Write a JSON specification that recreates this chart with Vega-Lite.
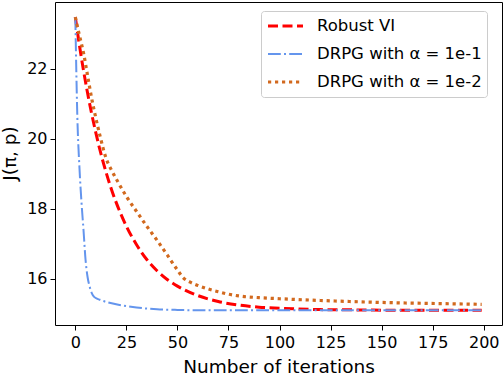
{
  "$schema": "https://vega.github.io/schema/vega-lite/v6.json",
  "width": 447,
  "height": 323,
  "autosize": "none",
  "padding": {"left": 55, "top": 2, "right": 2, "bottom": 51},
  "background": "white",
  "config": {
    "font": "DejaVu Sans",
    "view": {"stroke": "black", "strokeWidth": 1},
    "axis": {"grid": false, "domain": false, "tickColor": "black", "tickWidth": 1, "tickSize": 5, "labelColor": "black", "labelFont": "DejaVu Sans", "labelFontSize": 16, "titleFont": "DejaVu Sans", "titleFontSize": 18.5, "titleFontWeight": "normal", "titleColor": "black"}
  },
  "data": {"values": [
    {"series": "Robust VI", "x": 0, "y": 23.47},
    {"series": "Robust VI", "x": 2, "y": 22.67},
    {"series": "Robust VI", "x": 4, "y": 21.95},
    {"series": "Robust VI", "x": 6, "y": 21.3},
    {"series": "Robust VI", "x": 8, "y": 20.71},
    {"series": "Robust VI", "x": 10, "y": 20.18},
    {"series": "Robust VI", "x": 12, "y": 19.69},
    {"series": "Robust VI", "x": 15, "y": 19.05},
    {"series": "Robust VI", "x": 18, "y": 18.5},
    {"series": "Robust VI", "x": 21, "y": 18.03},
    {"series": "Robust VI", "x": 25, "y": 17.5},
    {"series": "Robust VI", "x": 30, "y": 16.97},
    {"series": "Robust VI", "x": 35, "y": 16.55},
    {"series": "Robust VI", "x": 40, "y": 16.23},
    {"series": "Robust VI", "x": 45, "y": 15.98},
    {"series": "Robust VI", "x": 50, "y": 15.79},
    {"series": "Robust VI", "x": 60, "y": 15.52},
    {"series": "Robust VI", "x": 70, "y": 15.35},
    {"series": "Robust VI", "x": 80, "y": 15.25},
    {"series": "Robust VI", "x": 90, "y": 15.19},
    {"series": "Robust VI", "x": 100, "y": 15.16},
    {"series": "Robust VI", "x": 120, "y": 15.12},
    {"series": "Robust VI", "x": 140, "y": 15.11},
    {"series": "Robust VI", "x": 160, "y": 15.1},
    {"series": "Robust VI", "x": 180, "y": 15.1},
    {"series": "Robust VI", "x": 199, "y": 15.1},
    {"series": "DRPG with α = 1e-1", "x": 0, "y": 23.47},
    {"series": "DRPG with α = 1e-1", "x": 1, "y": 20.6},
    {"series": "DRPG with α = 1e-1", "x": 2, "y": 19.2},
    {"series": "DRPG with α = 1e-1", "x": 3, "y": 18.2},
    {"series": "DRPG with α = 1e-1", "x": 4, "y": 17.4},
    {"series": "DRPG with α = 1e-1", "x": 5, "y": 16.55},
    {"series": "DRPG with α = 1e-1", "x": 6, "y": 16.05},
    {"series": "DRPG with α = 1e-1", "x": 7, "y": 15.78},
    {"series": "DRPG with α = 1e-1", "x": 8, "y": 15.6},
    {"series": "DRPG with α = 1e-1", "x": 9, "y": 15.5},
    {"series": "DRPG with α = 1e-1", "x": 10, "y": 15.45},
    {"series": "DRPG with α = 1e-1", "x": 12, "y": 15.4},
    {"series": "DRPG with α = 1e-1", "x": 15, "y": 15.34},
    {"series": "DRPG with α = 1e-1", "x": 20, "y": 15.27},
    {"series": "DRPG with α = 1e-1", "x": 25, "y": 15.22},
    {"series": "DRPG with α = 1e-1", "x": 30, "y": 15.18},
    {"series": "DRPG with α = 1e-1", "x": 35, "y": 15.15},
    {"series": "DRPG with α = 1e-1", "x": 40, "y": 15.13},
    {"series": "DRPG with α = 1e-1", "x": 50, "y": 15.11},
    {"series": "DRPG with α = 1e-1", "x": 60, "y": 15.1},
    {"series": "DRPG with α = 1e-1", "x": 80, "y": 15.1},
    {"series": "DRPG with α = 1e-1", "x": 100, "y": 15.1},
    {"series": "DRPG with α = 1e-1", "x": 150, "y": 15.1},
    {"series": "DRPG with α = 1e-1", "x": 199, "y": 15.1},
    {"series": "DRPG with α = 1e-2", "x": 0, "y": 23.47},
    {"series": "DRPG with α = 1e-2", "x": 2, "y": 22.95},
    {"series": "DRPG with α = 1e-2", "x": 4, "y": 22.45},
    {"series": "DRPG with α = 1e-2", "x": 6, "y": 21.8},
    {"series": "DRPG with α = 1e-2", "x": 8, "y": 21.15},
    {"series": "DRPG with α = 1e-2", "x": 10, "y": 20.6},
    {"series": "DRPG with α = 1e-2", "x": 12, "y": 20.1},
    {"series": "DRPG with α = 1e-2", "x": 15, "y": 19.45},
    {"series": "DRPG with α = 1e-2", "x": 18, "y": 19.07},
    {"series": "DRPG with α = 1e-2", "x": 21, "y": 18.75},
    {"series": "DRPG with α = 1e-2", "x": 25, "y": 18.35},
    {"series": "DRPG with α = 1e-2", "x": 30, "y": 17.92},
    {"series": "DRPG with α = 1e-2", "x": 35, "y": 17.5},
    {"series": "DRPG with α = 1e-2", "x": 40, "y": 17.1},
    {"series": "DRPG with α = 1e-2", "x": 45, "y": 16.68},
    {"series": "DRPG with α = 1e-2", "x": 50, "y": 16.25},
    {"series": "DRPG with α = 1e-2", "x": 53, "y": 16.02},
    {"series": "DRPG with α = 1e-2", "x": 56, "y": 15.91},
    {"series": "DRPG with α = 1e-2", "x": 60, "y": 15.81},
    {"series": "DRPG with α = 1e-2", "x": 65, "y": 15.71},
    {"series": "DRPG with α = 1e-2", "x": 70, "y": 15.63},
    {"series": "DRPG with α = 1e-2", "x": 75, "y": 15.56},
    {"series": "DRPG with α = 1e-2", "x": 80, "y": 15.51},
    {"series": "DRPG with α = 1e-2", "x": 90, "y": 15.46},
    {"series": "DRPG with α = 1e-2", "x": 100, "y": 15.43},
    {"series": "DRPG with α = 1e-2", "x": 120, "y": 15.38},
    {"series": "DRPG with α = 1e-2", "x": 140, "y": 15.34},
    {"series": "DRPG with α = 1e-2", "x": 160, "y": 15.31},
    {"series": "DRPG with α = 1e-2", "x": 180, "y": 15.29},
    {"series": "DRPG with α = 1e-2", "x": 199, "y": 15.27}
  ]},
  "mark": {"type": "line", "interpolate": "monotone", "strokeCap": "butt"},
  "encoding": {
    "x": {"field": "x", "type": "quantitative",
      "scale": {"domain": [-9.95, 208.95], "nice": false, "zero": false},
      "axis": {"values": [0, 25, 50, 75, 100, 125, 150, 175, 200], "title": "Number of iterations", "labelPadding": 4, "titleY": 47, "titleBaseline": "alphabetic"}},
    "y": {"field": "y", "type": "quantitative",
      "scale": {"domain": [14.68, 23.9], "nice": false, "zero": false},
      "axis": {"values": [16, 18, 20, 22], "title": "J(π, p)", "labelPadding": 3, "titleAngle": 270, "titleX": -40, "titleY": 151, "titleAlign": "center", "titleBaseline": "alphabetic"}},
    "color": {"field": "series", "type": "nominal",
      "scale": {"domain": ["Robust VI", "DRPG with α = 1e-1", "DRPG with α = 1e-2"], "range": ["#ff0000", "#6495ed", "#d2691e"]},
      "legend": {"title": null, "orient": "none", "legendX": 206, "legendY": 9, "symbolType": "stroke", "symbolSize": 1225, "symbolStrokeWidth": 3, "clipHeight": 20, "rowPadding": 8, "labelFontSize": 16.5, "labelFont": "DejaVu Sans", "labelColor": "black", "labelOffset": 12, "labelLimit": 0, "padding": 5, "strokeColor": "#cccccc", "fillColor": "rgba(255,255,255,0.8)", "cornerRadius": 3}},
    "strokeDash": {"field": "series", "type": "nominal",
      "scale": {"domain": ["Robust VI", "DRPG with α = 1e-1", "DRPG with α = 1e-2"], "range": [[10, 4.5], [12.8, 3.2, 2, 3.2], [3.2, 3.8]]},
      "legend": null},
    "strokeWidth": {"field": "series", "type": "ordinal",
      "scale": {"type": "ordinal", "domain": ["Robust VI", "DRPG with α = 1e-1", "DRPG with α = 1e-2"], "range": [3, 2, 3.2]},
      "legend": null}
  }
}
